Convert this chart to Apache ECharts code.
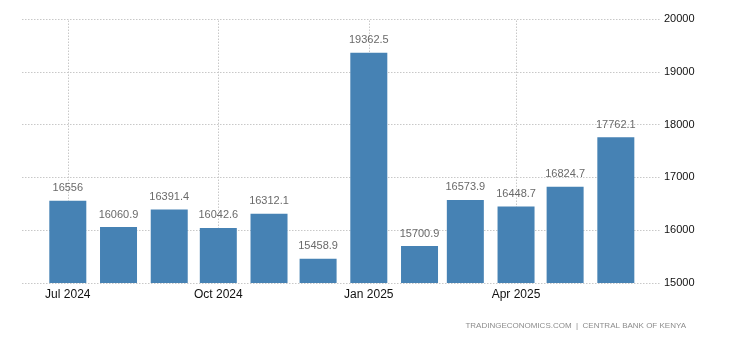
<!DOCTYPE html>
<html><head><meta charset="utf-8">
<script src="https://cdn.jsdelivr.net/npm/echarts@6/dist/echarts.min.js"></script>
<style>html,body{margin:0;padding:0;background:#fff}#c{width:730px;height:340px}</style>
</head><body><div id="c"></div>
<script>
const months = ['2024-07-01','2024-08-01','2024-09-01','2024-10-01','2024-11-01','2024-12-01','2025-01-01','2025-02-01','2025-03-01','2025-04-01','2025-05-01','2025-06-01'];
const values = [16556, 16060.9, 16391.4, 16042.6, 16312.1, 15458.9, 19362.5, 15700.9, 16573.9, 16448.7, 16824.7, 17762.1];
const labelText = ['16556','16060.9','16391.4','16042.6','16312.1','15458.9','19362.5','15700.9','16573.9','16448.7','16824.7','17762.1'];
const xTicks = ['2024-07-01','2024-10-01','2025-01-01','2025-04-01'];
const monthNames = ['Jan','Feb','Mar','Apr','May','Jun','Jul','Aug','Sep','Oct','Nov','Dec'];
const yMin = 15000, yMax = 20000, yStep = 1000;

function ts(s) { const [y,m,d] = s.split('-').map(Number); return new Date(y, m-1, d).getTime(); }
const tickTs = xTicks.map(ts);
const data = months.map((m, i) => [ts(m), values[i], i]);

const chart = echarts.init(document.getElementById('c'), null, {renderer: 'canvas'});
const font = 'Arial, "Liberation Sans", sans-serif';
const BAR_W = 37;
chart.setOption({
  animation: false,
  grid: {left: 22, right: 70, top: 19, bottom: 57, containLabel: false},
  xAxis: {
    type: 'time',
    min: ts('2024-06-03'),
    max: ts('2025-06-28'),
    axisLine: {show: false},
    axisTick: {show: false},
    splitLine: {show: false},
    axisLabel: {show: false}
  },
  yAxis: {
    type: 'value', position: 'right', min: yMin, max: yMax, interval: yStep,
    axisLine: {show: false}, axisTick: {show: false},
    splitLine: {show: true, lineStyle: {color: '#c8c8c8', type: [1.5, 1.5], width: 1}},
    axisLabel: {color: '#111', fontFamily: font, fontSize: 11, margin: 4, formatter: v => String(v)}
  },
  series: [{
    type: 'custom',
    data: data,
    encode: {x: 0, y: 1},
    z: 2,
    renderItem: function (params, api) {
      const x = api.value(0), v = api.value(1), i = api.value(2);
      const top = api.coord([x, v]);
      const base = api.coord([x, yMin]);
      return {
        type: 'group',
        children: [{
          type: 'rect',
          shape: {x: top[0] - BAR_W / 2, y: top[1], width: BAR_W, height: base[1] - top[1]},
          style: {fill: '#4682b4'}
        }, {
          type: 'text',
          x: top[0], y: top[1] - 7,
          style: {text: labelText[i], fill: '#6a6a6a', font: '11px ' + font, align: 'center', verticalAlign: 'bottom'}
        }]
      };
    }
  }, {
    type: 'line',
    data: [],
    markLine: {
      silent: true, symbol: 'none', z: 0,
      lineStyle: {color: '#c8c8c8', type: [1.5, 1.5], width: 1},
      label: {
        show: true, position: 'start', distance: 6,
        color: '#111', fontFamily: font, fontSize: 12,
        formatter: p => { const d = new Date(p.value); return monthNames[d.getMonth()] + ' ' + d.getFullYear(); }
      },
      data: tickTs.map(t => ({xAxis: t}))
    }
  }],
  graphic: [{
    type: 'text', right: 44, bottom: 10,
    style: {text: 'TRADINGECONOMICS.COM  |  CENTRAL BANK OF KENYA', fill: '#8c8c8c', font: '8px ' + font}
  }]
});
</script></body></html>
